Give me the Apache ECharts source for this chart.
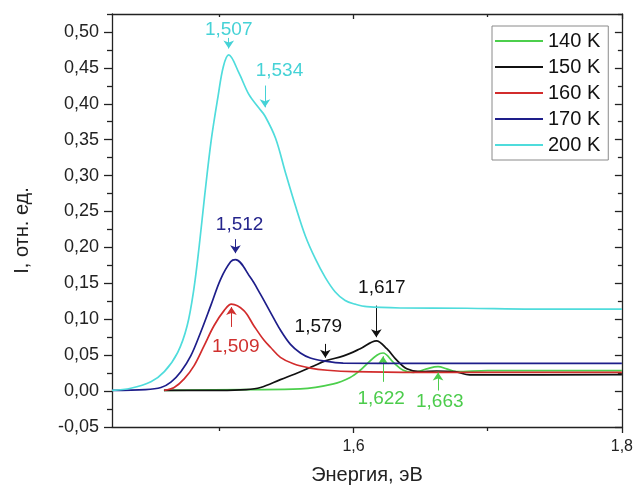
<!DOCTYPE html>
<html>
<head>
<meta charset="utf-8">
<script src="https://cdn.jsdelivr.net/npm/echarts@6/dist/echarts.min.js"></script>
<style>
  html, body { margin: 0; padding: 0; background: #fff; }
  #chart { width: 636px; height: 491px; }
</style>
</head>
<body>
<div id="chart"></div>
<script>
// Photoluminescence spectra at several temperatures
const seriesNames = ['140 K', '150 K', '160 K', '170 K', '200 K'];

const energy140 = [1.4587, 1.52, 1.5604, 1.5851, 1.5975, 1.605, 1.61, 1.6174, 1.622, 1.6297, 1.6371, 1.6446, 1.6545, 1.663, 1.6694, 1.6768, 1.70, 1.80];
const int140    = [0.001, 0.002, 0.003, 0.010, 0.019, 0.029, 0.038, 0.050, 0.053, 0.040, 0.029, 0.026, 0.031, 0.034, 0.031, 0.027, 0.0285, 0.0285];

const energy150 = [1.4587, 1.50, 1.52, 1.5307, 1.5455, 1.5604, 1.5703, 1.579, 1.5926, 1.605, 1.617, 1.6248, 1.6322, 1.6397, 1.6495, 1.6619, 1.6755, 1.6866, 1.7015, 1.80];
const int150    = [0.001, 0.001, 0.002, 0.005, 0.016, 0.027, 0.035, 0.042, 0.049, 0.059, 0.070, 0.059, 0.043, 0.031, 0.027, 0.028, 0.027, 0.0225, 0.0225, 0.023];

const energy160 = [1.4589, 1.4663, 1.4738, 1.4812, 1.4886, 1.496, 1.5035, 1.509, 1.5183, 1.5257, 1.5332, 1.5381, 1.5455, 1.5552, 1.5678, 1.5805, 1.60, 1.65, 1.80];
const int160    = [0.001, 0.005, 0.017, 0.0355, 0.063, 0.091, 0.112, 0.121, 0.112, 0.091, 0.071, 0.061, 0.047, 0.038, 0.032, 0.029, 0.027, 0.026, 0.026];

const energy170 = [1.42, 1.445, 1.4565, 1.4639, 1.4713, 1.4787, 1.4861, 1.4936, 1.501, 1.5084, 1.512, 1.5232, 1.5306, 1.538, 1.5455, 1.553, 1.5604, 1.5678, 1.5775, 1.5923, 1.65, 1.80];
const int170    = [0.001, 0.002, 0.005, 0.0125, 0.027, 0.049, 0.082, 0.119, 0.156, 0.180, 0.183, 0.158, 0.135, 0.110, 0.085, 0.065, 0.053, 0.046, 0.042, 0.039, 0.0385, 0.0385];

const energy200 = [1.42, 1.434, 1.449, 1.459, 1.469, 1.476, 1.481, 1.485, 1.489, 1.494, 1.499, 1.503, 1.507, 1.5146, 1.522, 1.5295, 1.534, 1.5419, 1.5493, 1.5567, 1.5641, 1.5716, 1.579, 1.5864, 1.5938, 1.6012, 1.61, 1.635, 1.684, 1.733, 1.80];
const int200    = [0.001, 0.004, 0.013, 0.027, 0.054, 0.091, 0.142, 0.202, 0.271, 0.350, 0.410, 0.452, 0.468, 0.443, 0.413, 0.394, 0.383, 0.352, 0.304, 0.258, 0.216, 0.184, 0.158, 0.138, 0.126, 0.121, 0.1175, 0.1157, 0.1153, 0.114, 0.114];

const seriesEnergy = [energy140, energy150, energy160, energy170, energy200];
const seriesIntensity = [int140, int150, int160, int170, int200];
const seriesColors = ['#4ccf4c', '#111111', '#d22c2c', '#1e1e8a', '#4fdcdc'];

// Axis ticks and labels
const xMajorTicks = [1.6, 1.8];
const xMinorTicks = [1.5, 1.7];
const yMajorTicks = [-0.05, 0.00, 0.05, 0.10, 0.15, 0.20, 0.25, 0.30, 0.35, 0.40, 0.45, 0.50];
const yMinorTicks = [-0.025, 0.025, 0.075, 0.125, 0.175, 0.225, 0.275, 0.325, 0.375, 0.425, 0.475, 0.525];

// Peak annotations: text, owning series, text centre, arrow start/end intensity
const noteText    = ['1,507', '1,534', '1,512', '1,509', '1,579', '1,617', '1,622', '1,663'];
const noteSeries  = [4, 4, 3, 2, 1, 1, 0, 0];
const noteTextE   = [1.507, 1.5448, 1.5151, 1.5122, 1.5738, 1.6211, 1.6206, 1.6643];
const noteTextI   = [0.503, 0.446, 0.231, 0.062, 0.090, 0.1435, -0.0107, -0.015];
const noteFromI   = [0.4917, 0.4254, 0.2115, 0.0893, 0.0657, 0.119, 0.0129, 0.0008];
const noteToI     = [0.477, 0.395, 0.192, 0.117, 0.0465, 0.075, 0.0485, 0.0258];
const noteColors  = ['#45d2d6', '#45d2d6', '#25258c', '#d0302e', '#111111', '#111111', '#4ccc4c', '#4ccc4c'];

const FONT = 'Liberation Sans, Arial, sans-serif';
const AXIS_COLOR = '#222';
const XMIN = 1.42, XMAX = 1.80, YMIN = -0.05, YMAX = 0.525;

const comma = (v, d) => v.toFixed(d).replace('.', ',');

function xAxisDef(position, ticks, len, inside, withLine, withLabels) {
  return {
    type: 'value', position: position, min: XMIN, max: XMAX,
    axisLine: { show: withLine, onZero: false, lineStyle: { color: AXIS_COLOR, width: 1.3 } },
    axisTick: { show: true, inside: inside, length: len, customValues: ticks, lineStyle: { color: AXIS_COLOR, width: 1.3 } },
    axisLabel: withLabels ? {
      show: true, customValues: ticks, margin: 12,
      fontFamily: FONT, fontSize: 16, color: '#222',
      formatter: v => comma(v, 1)
    } : { show: false },
    splitLine: { show: false }
  };
}

function yAxisDef(position, ticks, len, inside, withLine, withLabels) {
  return {
    type: 'value', position: position, min: YMIN, max: YMAX,
    axisLine: { show: withLine, onZero: false, lineStyle: { color: AXIS_COLOR, width: 1.3 } },
    axisTick: { show: true, inside: inside, length: len, customValues: ticks, lineStyle: { color: AXIS_COLOR, width: 1.3 } },
    axisLabel: withLabels ? {
      show: true, customValues: ticks, margin: 13,
      fontFamily: FONT, fontSize: 18, color: '#222',
      formatter: v => comma(v, 2)
    } : { show: false },
    splitLine: { show: false }
  };
}

const xAxes = [
  Object.assign(xAxisDef('bottom', xMajorTicks, 6, false, true, true), {
    name: 'Энергия, эВ', nameLocation: 'middle', nameGap: 38,
    nameTextStyle: { fontFamily: FONT, fontSize: 20, color: '#222' }
  }),
  xAxisDef('bottom', xMinorTicks, 4, false, false, false),
  xAxisDef('top', xMajorTicks, 5, true, true, false),
  xAxisDef('top', xMinorTicks, 3, true, false, false)
];

const yAxes = [
  Object.assign(yAxisDef('left', yMajorTicks, 8, false, true, true), {
    name: 'I, отн. ед.', nameLocation: 'middle', nameGap: 80,
    nameTextStyle: { fontFamily: FONT, fontSize: 20, color: '#222', padding: [0, 20, 0, 0] }
  }),
  yAxisDef('left', yMinorTicks, 5, false, false, false),
  yAxisDef('right', yMajorTicks, 7, true, true, false),
  yAxisDef('right', yMinorTicks, 4, true, false, false)
];

const series = seriesNames.map((name, s) => {
  const idx = noteSeries.map((n, k) => n === s ? k : -1).filter(k => k >= 0);
  return {
    name: name,
    type: 'line',
    xAxisIndex: 0, yAxisIndex: 0,
    data: seriesEnergy[s].map((e, i) => [e, seriesIntensity[s][i]]),
    smooth: 0.35,
    showSymbol: false, symbol: 'none',
    lineStyle: { color: seriesColors[s], width: 1.7 },
    itemStyle: { color: seriesColors[s] },
    emphasis: { disabled: true },
    z: 2 + s,
    markLine: {
      silent: true, animation: false,
      symbol: ['none', 'arrow'], symbolSize: 8,
      label: { show: false },
      emphasis: { disabled: true },
      data: idx.map(k => {
        const e = parseFloat(noteText[k].replace(',', '.'));
        const st = { color: noteColors[k] };
        return [
          { coord: [e, noteFromI[k]], lineStyle: { color: noteColors[k], width: 1, type: 'solid' }, itemStyle: st },
          { coord: [e, noteToI[k]], itemStyle: st }
        ];
      })
    },
    markPoint: {
      silent: true, animation: false,
      symbol: 'rect', symbolSize: 1,
      itemStyle: { color: 'rgba(0,0,0,0)' },
      data: idx.map(k => ({
        coord: [noteTextE[k], noteTextI[k]],
        value: noteText[k],
        label: {
          show: true, position: 'inside', formatter: noteText[k],
          fontFamily: FONT, fontSize: 19, color: noteColors[k]
        }
      }))
    }
  };
});

const chart = echarts.init(document.getElementById('chart'), null, { renderer: 'canvas' });
chart.setOption({
  animation: false,
  backgroundColor: '#ffffff',
  grid: { left: 112, right: 13, top: 14, bottom: 64, containLabel: false },
  xAxis: xAxes,
  yAxis: yAxes,
  legend: {
    data: seriesNames,
    orient: 'vertical',
    left: 492, top: 26,
    itemWidth: 48, itemHeight: 14, itemGap: 6,
    padding: [5, 8, 5, 2],
    borderColor: '#8a8a8a', borderWidth: 1,
    backgroundColor: '#ffffff',
    itemStyle: { color: 'rgba(0,0,0,0)', borderColor: 'rgba(0,0,0,0)', borderWidth: 0 },
    lineStyle: { width: 2 },
    textStyle: { fontFamily: FONT, fontSize: 20, color: '#111', lineHeight: 20 },
    selectedMode: false
  },
  series: series
});
</script>
</body>
</html>
